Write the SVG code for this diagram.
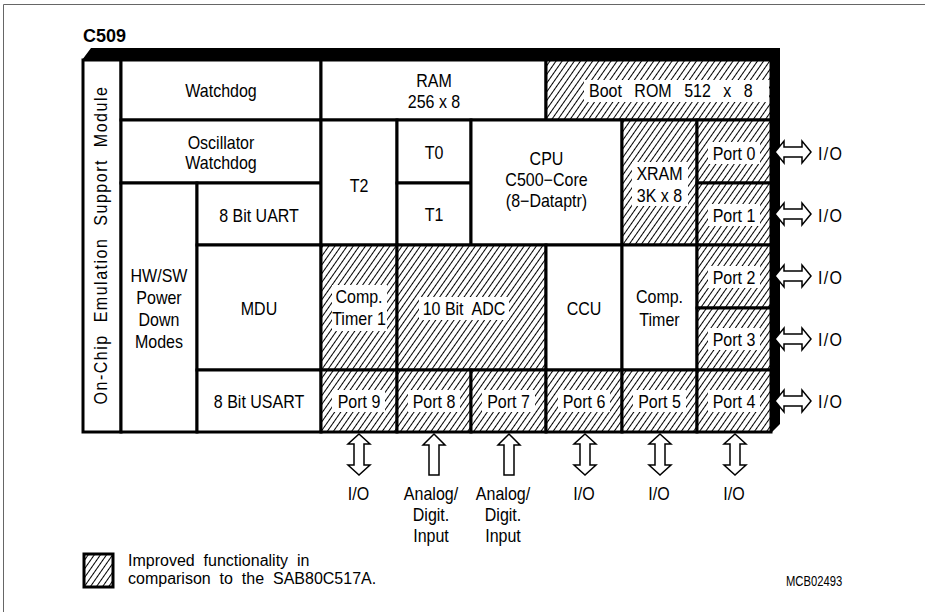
<svg xmlns="http://www.w3.org/2000/svg" width="925" height="612" viewBox="0 0 925 612">
<style>
.t{font-family:"Liberation Sans",Arial,Helvetica,sans-serif;font-size:18px;fill:#000;text-anchor:middle}
.s{text-anchor:start}
.pre{white-space:pre}
.c{fill:#fff;stroke:#000;stroke-width:3}
.h{fill:url(#hatch);stroke:#000;stroke-width:3}
.bg{fill:#fff;stroke:none}
.arr{fill:#fff;stroke:#000;stroke-width:1.5;stroke-linejoin:miter}
</style>
<defs>
<pattern id="hatch" width="5" height="5" patternUnits="userSpaceOnUse" patternTransform="rotate(35)">
<rect width="5" height="5" fill="#fff"/>
<line x1="0.5" y1="0" x2="0.5" y2="5" stroke="#000" stroke-width="1"/>
</pattern>
</defs>
<rect width="925" height="612" fill="#fff"/>
<path d="M3.5,612 V4.5 H925" fill="none" stroke="#666" stroke-width="1"/>
<text x="83" y="42" style="font-family:'Liberation Sans',Arial,sans-serif;font-size:18px;font-weight:bold">C509</text>

<g id="emulation"><rect class="c" x="83" y="60" width="38" height="372"/>
<text class="t pre" style="letter-spacing:1.7px" transform="translate(107,245) rotate(-90) scale(.89,1)">On-Chip  Emulation  Support  Module</text></g>
<g id="watchdog"><rect class="c" x="121" y="60" width="200" height="60"/>
<text class="t" transform="translate(221,97) scale(.89,1)">Watchdog</text></g>
<g id="osc-watchdog"><rect class="c" x="121" y="120" width="200" height="63"/>
<text class="t" transform="translate(221,149) scale(.89,1)"><tspan x="0">Oscillator</tspan><tspan x="0" dy="20">Watchdog</tspan></text></g>
<g id="powerdown"><rect class="c" x="121" y="183" width="76" height="249"/>
<text class="t" transform="translate(159,282) scale(.89,1)"><tspan x="0">HW/SW</tspan><tspan x="0" dy="22">Power</tspan><tspan x="0" dy="22">Down</tspan><tspan x="0" dy="22">Modes</tspan></text></g>
<g id="uart"><rect class="c" x="197" y="183" width="124" height="62"/>
<text class="t" transform="translate(259,222) scale(.89,1)">8 Bit UART</text></g>
<g id="mdu"><rect class="c" x="197" y="245" width="124" height="125"/>
<text class="t" transform="translate(259,315) scale(.89,1)">MDU</text></g>
<g id="usart"><rect class="c" x="197" y="370" width="124" height="62"/>
<text class="t" transform="translate(259,408) scale(.89,1)">8 Bit USART</text></g>
<g id="ram"><rect class="c" x="321" y="60" width="225" height="60"/>
<text class="t" transform="translate(434,87) scale(.89,1)"><tspan x="0">RAM</tspan><tspan x="0" dy="21">256 x 8</tspan></text></g>
<g id="bootrom"><rect class="h" x="546" y="60" width="225" height="60"/>
<rect class="bg" x="584" y="80" width="185" height="22"/>
<text class="t s" style="word-spacing:9px" transform="translate(589,97) scale(.89,1)">Boot ROM 512 x 8</text></g>
<g id="t2"><rect class="c" x="321" y="120" width="76" height="125"/>
<text class="t" transform="translate(359,192) scale(.89,1)">T2</text></g>
<g id="t0"><rect class="c" x="397" y="120" width="74" height="63"/>
<text class="t" transform="translate(434,159) scale(.89,1)">T0</text></g>
<g id="t1"><rect class="c" x="397" y="183" width="74" height="62"/>
<text class="t" transform="translate(434,221) scale(.89,1)">T1</text></g>
<g id="cpu"><rect class="c" x="471" y="120" width="151" height="125"/>
<text class="t" transform="translate(546.5,165) scale(.89,1)"><tspan x="0">CPU</tspan><tspan x="0" dy="21">C500−Core</tspan><tspan x="0" dy="21">(8−Dataptr)</tspan></text></g>
<g id="xram"><rect class="h" x="622" y="120" width="75" height="125"/>
<rect class="bg" x="632" y="162" width="56" height="44"/>
<text class="t" transform="translate(659.5,180) scale(.89,1)"><tspan x="0">XRAM</tspan><tspan x="0" dy="22">3K x 8</tspan></text></g>
<g id="port0"><rect class="h" x="697" y="120" width="74" height="63"/>
<rect class="bg" x="708" y="142" width="52" height="22"/>
<text class="t" transform="translate(734,160) scale(.89,1)">Port 0</text></g>
<g id="port1"><rect class="h" x="697" y="183" width="74" height="62"/>
<rect class="bg" x="708" y="204" width="52" height="22"/>
<text class="t" transform="translate(734,222) scale(.89,1)">Port 1</text></g>
<g id="comptimer1"><rect class="h" x="321" y="245" width="76" height="125"/>
<rect class="bg" x="332" y="285" width="55" height="46"/>
<text class="t" transform="translate(359,303) scale(.89,1)"><tspan x="0">Comp.</tspan><tspan x="0" dy="22">Timer 1</tspan></text></g>
<g id="adc"><rect class="h" x="397" y="245" width="149" height="125"/>
<rect class="bg" x="419" y="297" width="90" height="23"/>
<text class="t pre" transform="translate(464,315) scale(.89,1)">10 Bit  ADC</text></g>
<g id="ccu"><rect class="c" x="546" y="245" width="76" height="125"/>
<text class="t" transform="translate(584,315) scale(.89,1)">CCU</text></g>
<g id="comptimer"><rect class="c" x="622" y="245" width="75" height="125"/>
<text class="t" transform="translate(659.5,303) scale(.89,1)"><tspan x="0">Comp.</tspan><tspan x="0" dy="23">Timer</tspan></text></g>
<g id="port2"><rect class="h" x="697" y="245" width="74" height="63"/>
<rect class="bg" x="708" y="266" width="52" height="22"/>
<text class="t" transform="translate(734,284) scale(.89,1)">Port 2</text></g>
<g id="port3"><rect class="h" x="697" y="308" width="74" height="62"/>
<rect class="bg" x="708" y="328" width="52" height="22"/>
<text class="t" transform="translate(734,346) scale(.89,1)">Port 3</text></g>
<g id="port9"><rect class="h" x="321" y="370" width="76" height="62"/>
<rect class="bg" x="332" y="390" width="53" height="22"/>
<text class="t" transform="translate(359,408) scale(.89,1)">Port 9</text></g>
<g id="port8"><rect class="h" x="397" y="370" width="74" height="62"/>
<rect class="bg" x="408" y="390" width="52" height="22"/>
<text class="t" transform="translate(434,408) scale(.89,1)">Port 8</text></g>
<g id="port7"><rect class="h" x="471" y="370" width="75" height="62"/>
<rect class="bg" x="482" y="390" width="53" height="22"/>
<text class="t" transform="translate(508.5,408) scale(.89,1)">Port 7</text></g>
<g id="port6"><rect class="h" x="546" y="370" width="76" height="62"/>
<rect class="bg" x="558" y="390" width="52" height="22"/>
<text class="t" transform="translate(584,408) scale(.89,1)">Port 6</text></g>
<g id="port5"><rect class="h" x="622" y="370" width="75" height="62"/>
<rect class="bg" x="633" y="390" width="53" height="22"/>
<text class="t" transform="translate(659.5,408) scale(.89,1)">Port 5</text></g>
<g id="port4"><rect class="h" x="697" y="370" width="74" height="62"/>
<rect class="bg" x="708" y="390" width="52" height="22"/>
<text class="t" transform="translate(734,408) scale(.89,1)">Port 4</text></g>

<g id="frame3d"><path d="M82,60 L91,48 L780,48 L780,424 L771,433 L771,60 Z" fill="#000"/></g>

<g id="connectors">
<path class="arr" d="M775,152 L784,141 V147 H802 V141 L811,152 L802,163 V157 H784 V163 Z"/>
<path class="arr" d="M775,214 L784,203 V209 H802 V203 L811,214 L802,225 V219 H784 V225 Z"/>
<path class="arr" d="M775,276 L784,265 V271 H802 V265 L811,276 L802,287 V281 H784 V287 Z"/>
<path class="arr" d="M775,339 L784,328 V334 H802 V328 L811,339 L802,350 V344 H784 V350 Z"/>
<path class="arr" d="M775,401 L784,390 V396 H802 V390 L811,401 L802,412 V406 H784 V412 Z"/>
<path class="arr" d="M359,434 L370,444 H364 V465 H370 L359,475 L348,465 H354 V444 H348 Z"/>
<path class="arr" d="M434,434 L445,445 H439 V475 H429 V445 H423 Z"/>
<path class="arr" d="M509,434 L520,445 H514 V475 H504 V445 H498 Z"/>
<path class="arr" d="M585,434 L596,444 H590 V465 H596 L585,475 L574,465 H580 V444 H574 Z"/>
<path class="arr" d="M660,434 L671,444 H665 V465 H671 L660,475 L649,465 H655 V444 H649 Z"/>
<path class="arr" d="M735,434 L746,444 H740 V465 H746 L735,475 L724,465 H730 V444 H724 Z"/>
</g>

<g id="io-labels">
<text class="t s" style="letter-spacing:1.5px" transform="translate(818,160) scale(.89,1)">I/O</text>
<text class="t s" style="letter-spacing:1.5px" transform="translate(818,222) scale(.89,1)">I/O</text>
<text class="t s" style="letter-spacing:1.5px" transform="translate(818,284) scale(.89,1)">I/O</text>
<text class="t s" style="letter-spacing:1.5px" transform="translate(818,346) scale(.89,1)">I/O</text>
<text class="t s" style="letter-spacing:1.5px" transform="translate(818,408) scale(.89,1)">I/O</text>
<text class="t" transform="translate(358.5,500) scale(.89,1)">I/O</text>
<text class="t" transform="translate(431,500) scale(.89,1)"><tspan x="0">Analog/</tspan><tspan x="0" dy="21">Digit.</tspan><tspan x="0" dy="21">Input</tspan></text>
<text class="t" transform="translate(503,500) scale(.89,1)"><tspan x="0">Analog/</tspan><tspan x="0" dy="21">Digit.</tspan><tspan x="0" dy="21">Input</tspan></text>
<text class="t" transform="translate(584,500) scale(.89,1)">I/O</text>
<text class="t" transform="translate(659,500) scale(.89,1)">I/O</text>
<text class="t" transform="translate(734,500) scale(.89,1)">I/O</text>
</g>

<g id="legend">
<rect class="h" x="84" y="554" width="29" height="33"/>
<text class="t s pre" style="font-size:16px" transform="translate(128,566)">Improved  functionality  in</text>
<text class="t s pre" style="font-size:16px" transform="translate(128,584)">comparison  to  the  SAB80C517A.</text>
</g>
<text class="t s" style="font-size:15px" transform="translate(786,586) scale(.75,1)">MCB02493</text>
</svg>
